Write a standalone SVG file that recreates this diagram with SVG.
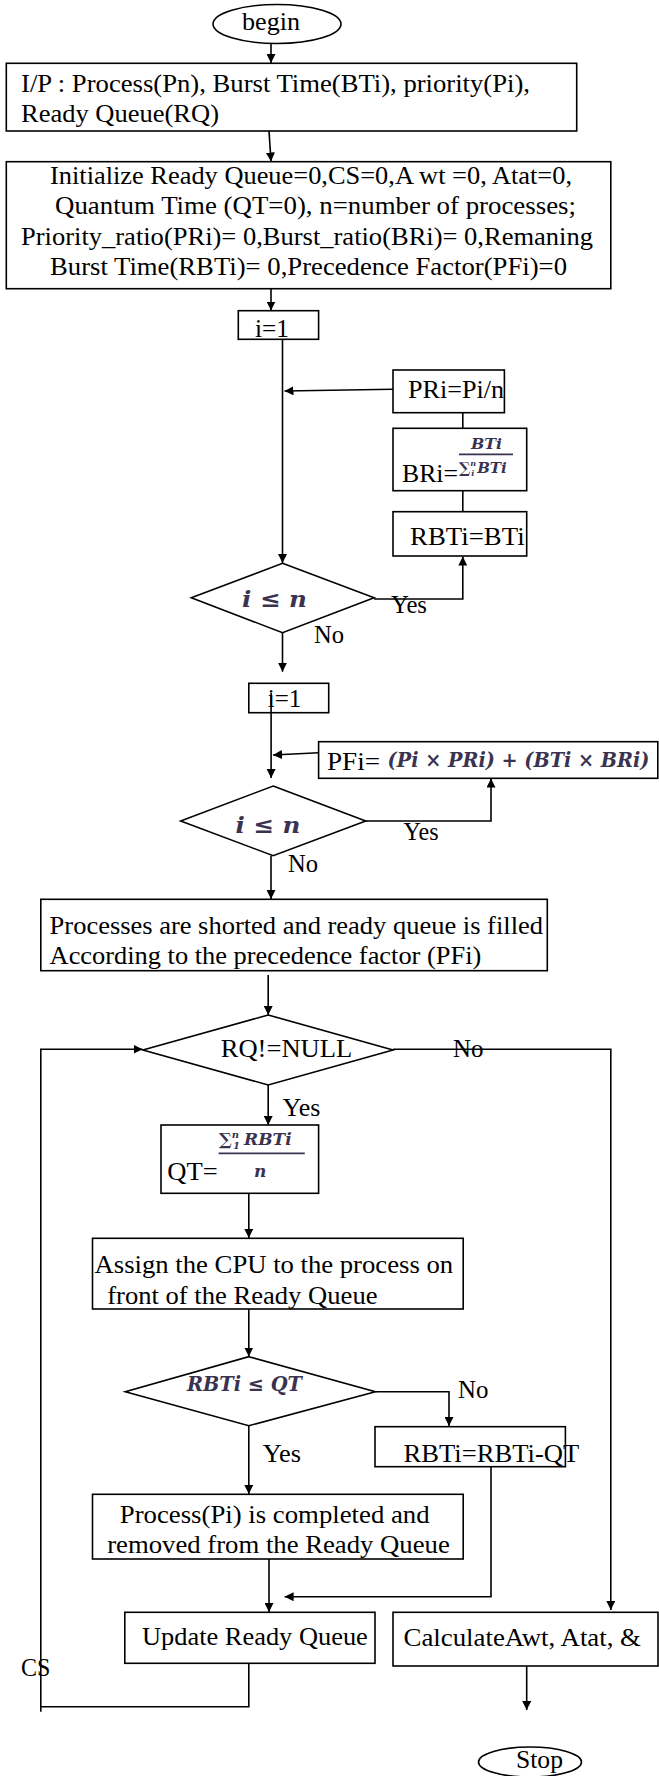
<svg xmlns="http://www.w3.org/2000/svg" width="659" height="1776" viewBox="0 0 659 1776">
<style>
.t{font-family:"Liberation Serif","Times New Roman",serif;font-size:26px;fill:#000}
.m{font-family:"DejaVu Serif",serif;font-style:italic;font-weight:bold;fill:#3a3350}
.b{fill:#fff;stroke:#000;stroke-width:1.6}
.c{fill:none;stroke:#000;stroke-width:1.6}
.bar{stroke:#3a3350;stroke-width:1.8}
</style>
<defs>
<marker id="a" viewBox="0 0 10 10" refX="10" refY="5" markerWidth="9" markerHeight="9" markerUnits="userSpaceOnUse" orient="auto">
<path d="M0,0 L10,5 L0,10 z" fill="#000"/>
</marker>
</defs>
<rect width="659" height="1776" fill="#fff"/>
<g id="connectors">
<path class="c" d="M271,43.5 V63" marker-end="url(#a)"/>
<path class="c" d="M269,131 L271,161.5" marker-end="url(#a)"/>
<path class="c" d="M271,289 V310.5" marker-end="url(#a)"/>
<path class="c" d="M282.5,339.3 V563" marker-end="url(#a)"/>
<path class="c" d="M393,389.3 L284.5,391" marker-end="url(#a)"/>
<path class="c" d="M462.8,412.7 V428.3"/>
<path class="c" d="M462.8,490.7 V511.7"/>
<path class="c" d="M374.1,599 H462.8 V556.5" marker-end="url(#a)"/>
<path class="c" d="M282.5,632.7 V671.7" marker-end="url(#a)"/>
<path class="c" d="M271.1,693 V778" marker-end="url(#a)"/>
<path class="c" d="M318.6,752.7 L273,755" marker-end="url(#a)"/>
<path class="c" d="M365.7,821 H491 V778.5" marker-end="url(#a)"/>
<path class="c" d="M271,855.7 V899" marker-end="url(#a)"/>
<path class="c" d="M268.2,975 V1015" marker-end="url(#a)"/>
<path class="c" d="M393,1049.3 H610.8 V1610" marker-end="url(#a)"/>
<path class="c" d="M248.8,1663.3 V1706.7 H40.8"/>
<path class="c" d="M40.8,1711.7 V1049.3 H142.5" marker-end="url(#a)"/>
<path class="c" d="M268.2,1085 V1125" marker-end="url(#a)"/>
<path class="c" d="M248.8,1193.3 V1238" marker-end="url(#a)"/>
<path class="c" d="M248.8,1309 V1356.5" marker-end="url(#a)"/>
<path class="c" d="M375.4,1391.7 H449 V1426" marker-end="url(#a)"/>
<path class="c" d="M248.8,1425.7 V1494" marker-end="url(#a)"/>
<path class="c" d="M269,1559 V1612" marker-end="url(#a)"/>
<path class="c" d="M491,1466.7 V1596.7 H284.6" marker-end="url(#a)"/>
<path class="c" d="M526.7,1666 V1710" marker-end="url(#a)"/>
<text class="t" x="391" y="613.3" textLength="36" lengthAdjust="spacingAndGlyphs">Yes</text>
<text class="t" x="314" y="643.3" textLength="30" lengthAdjust="spacingAndGlyphs">No</text>
<text class="t" x="403.5" y="840" textLength="35" lengthAdjust="spacingAndGlyphs">Yes</text>
<text class="t" x="288" y="871.7" textLength="30" lengthAdjust="spacingAndGlyphs">No</text>
<text class="t" x="453" y="1056.7" textLength="30.4" lengthAdjust="spacingAndGlyphs">No</text>
<text class="t" x="282.5" y="1116" textLength="37.8" lengthAdjust="spacingAndGlyphs">Yes</text>
<text class="t" x="458" y="1398.3" textLength="30.4" lengthAdjust="spacingAndGlyphs">No</text>
<text class="t" x="262.7" y="1461.7" textLength="38.3" lengthAdjust="spacingAndGlyphs">Yes</text>
<text class="t" x="21" y="1676" textLength="29.4" lengthAdjust="spacingAndGlyphs">CS</text>
</g>
<g id="begin">
<ellipse class="b" cx="277" cy="24" rx="64" ry="19.5"/>
<text class="t" x="242" y="30" textLength="58" lengthAdjust="spacingAndGlyphs">begin</text>
</g>
<g id="input">
<rect class="b" x="6.3" y="63.3" width="570.4" height="67.7"/>
<text class="t" x="21" y="92" textLength="509" lengthAdjust="spacingAndGlyphs">I/P : Process(Pn), Burst Time(BTi), priority(Pi),</text>
<text class="t" x="21" y="122" textLength="198" lengthAdjust="spacingAndGlyphs">Ready Queue(RQ)</text>
</g>
<g id="init">
<rect class="b" x="6.3" y="161.7" width="604.5" height="127"/>
<text class="t" x="50" y="183.5" textLength="522" lengthAdjust="spacingAndGlyphs">Initialize Ready Queue=0,CS=0,A wt =0, Atat=0,</text>
<text class="t" x="55" y="213.5" textLength="521" lengthAdjust="spacingAndGlyphs">Quantum Time (QT=0), n=number of processes;</text>
<text class="t" x="21" y="244.5" textLength="572" lengthAdjust="spacingAndGlyphs">Priority_ratio(PRi)= 0,Burst_ratio(BRi)= 0,Remaning</text>
<text class="t" x="50" y="275" textLength="517" lengthAdjust="spacingAndGlyphs">Burst Time(RBTi)= 0,Precedence Factor(PFi)=0</text>
</g>
<g id="i1a">
<rect class="b" x="238.3" y="310.7" width="80.3" height="28.6"/>
<text class="t" x="255" y="336.7" textLength="34" lengthAdjust="spacingAndGlyphs">i=1</text>
</g>
<g id="pri">
<rect class="b" x="393" y="370" width="111.4" height="42.7"/>
<text class="t" x="408" y="398.3" textLength="96" lengthAdjust="spacingAndGlyphs">PRi=Pi/n</text>
</g>
<g id="bri">
<rect class="b" x="393" y="428.3" width="133.7" height="62.4"/>
<text class="t" x="402" y="481.7" textLength="56" lengthAdjust="spacingAndGlyphs">BRi=</text>
<text class="m" x="471" y="449" font-size="14" textLength="31" lengthAdjust="spacingAndGlyphs">BTi</text>
<line class="bar" x1="459" y1="454.3" x2="513" y2="454.3"/>
<text class="m" x="459" y="473" font-size="15">∑<tspan font-size="8" dy="-7">n</tspan><tspan font-size="8" dx="-5" dy="10">i</tspan><tspan dx="3" dy="-3">BTi</tspan></text>
</g>
<g id="rbti">
<rect class="b" x="393" y="511.7" width="133.7" height="44.3"/>
<text class="t" x="410" y="545" textLength="114.6" lengthAdjust="spacingAndGlyphs">RBTi=BTi</text>
</g>
<g id="d1">
<polygon class="b" points="282.5,563.3 374.1,597.7 282.5,632.7 191.3,597.7"/>
<text class="m" x="242" y="606.7" font-size="23" textLength="65" lengthAdjust="spacingAndGlyphs">i ≤ n</text>
</g>
<g id="i1b">
<rect class="b" x="248.8" y="683.3" width="79.9" height="29.4"/>
<text class="t" x="267.8" y="706.7" textLength="33.6" lengthAdjust="spacingAndGlyphs">i=1</text>
<path class="c" d="M271.1,693 V713"/>
</g>
<g id="pfi">
<rect class="b" x="318.6" y="741.7" width="339.2" height="36.6"/>
<text class="t" x="327" y="770" textLength="53" lengthAdjust="spacingAndGlyphs">PFi=</text>
<text class="m" x="387.6" y="767" font-size="20" textLength="261.8" lengthAdjust="spacingAndGlyphs">(Pi × PRi) + (BTi × BRi)</text>
</g>
<g id="d2">
<polygon class="b" points="273.2,786 365.7,821 273.2,855.7 180.7,821"/>
<text class="m" x="235.4" y="833.3" font-size="23" textLength="65" lengthAdjust="spacingAndGlyphs">i ≤ n</text>
</g>
<g id="sort">
<rect class="b" x="40.8" y="899.3" width="506.5" height="71.4"/>
<text class="t" x="49.6" y="934" textLength="493.4" lengthAdjust="spacingAndGlyphs">Processes are shorted and ready queue is filled</text>
<text class="t" x="49.6" y="964" textLength="431.7" lengthAdjust="spacingAndGlyphs">According to the precedence factor (PFi)</text>
</g>
<g id="rq">
<polygon class="b" points="268.2,1015 393,1050 268.2,1085 142.9,1050"/>
<text class="t" x="220.7" y="1056.7" textLength="131.5" lengthAdjust="spacingAndGlyphs">RQ!=NULL</text>
</g>
<g id="qt">
<rect class="b" x="161" y="1125" width="157.6" height="68.3"/>
<text class="t" x="167.3" y="1180" textLength="50.4" lengthAdjust="spacingAndGlyphs">QT=</text>
<text class="m" x="219" y="1145" font-size="17">∑<tspan font-size="10" dy="-7">n</tspan><tspan font-size="10" dx="-6" dy="11">1</tspan><tspan dx="4" dy="-4">RBTi</tspan></text>
<line class="bar" x1="218.6" y1="1153.3" x2="304.8" y2="1153.3"/>
<text class="m" x="254" y="1177.3" font-size="17">n</text>
</g>
<g id="assign">
<rect class="b" x="92.5" y="1238.3" width="370.7" height="70.7"/>
<text class="t" x="94.6" y="1272.7" textLength="358.5" lengthAdjust="spacingAndGlyphs">Assign the CPU to the process on</text>
<text class="t" x="107.2" y="1304" textLength="270.3" lengthAdjust="spacingAndGlyphs">front of the Ready Queue</text>
</g>
<g id="d3">
<polygon class="b" points="248.8,1356.7 375.4,1391.7 248.8,1425.7 125.3,1391.7"/>
<text class="m" x="187" y="1391" font-size="20" textLength="114.8" lengthAdjust="spacingAndGlyphs">RBTi ≤ QT</text>
</g>
<g id="sub">
<rect class="b" x="375" y="1426.7" width="190.4" height="40"/>
<text class="t" x="403.5" y="1461.7" textLength="175.7" lengthAdjust="spacingAndGlyphs">RBTi=RBTi-QT</text>
</g>
<g id="done">
<rect class="b" x="92.5" y="1494.3" width="370.7" height="64.7"/>
<text class="t" x="119.8" y="1523.3" textLength="309.8" lengthAdjust="spacingAndGlyphs">Process(Pi) is completed and</text>
<text class="t" x="107.2" y="1553.3" textLength="342.6" lengthAdjust="spacingAndGlyphs">removed from the Ready Queue</text>
</g>
<g id="update">
<rect class="b" x="124.8" y="1612.3" width="250.2" height="51"/>
<text class="t" x="142" y="1645" textLength="225.8" lengthAdjust="spacingAndGlyphs">Update Ready Queue</text>
</g>
<g id="calc">
<rect class="b" x="393" y="1612.3" width="265" height="53.7"/>
<text class="t" x="403.5" y="1645.7" textLength="237.5" lengthAdjust="spacingAndGlyphs">CalculateAwt, Atat, &amp;</text>
</g>
<g id="stop">
<ellipse class="b" cx="530" cy="1762" rx="51.5" ry="15"/>
<text class="t" x="516" y="1768.3" textLength="47" lengthAdjust="spacingAndGlyphs">Stop</text>
</g>
</svg>
